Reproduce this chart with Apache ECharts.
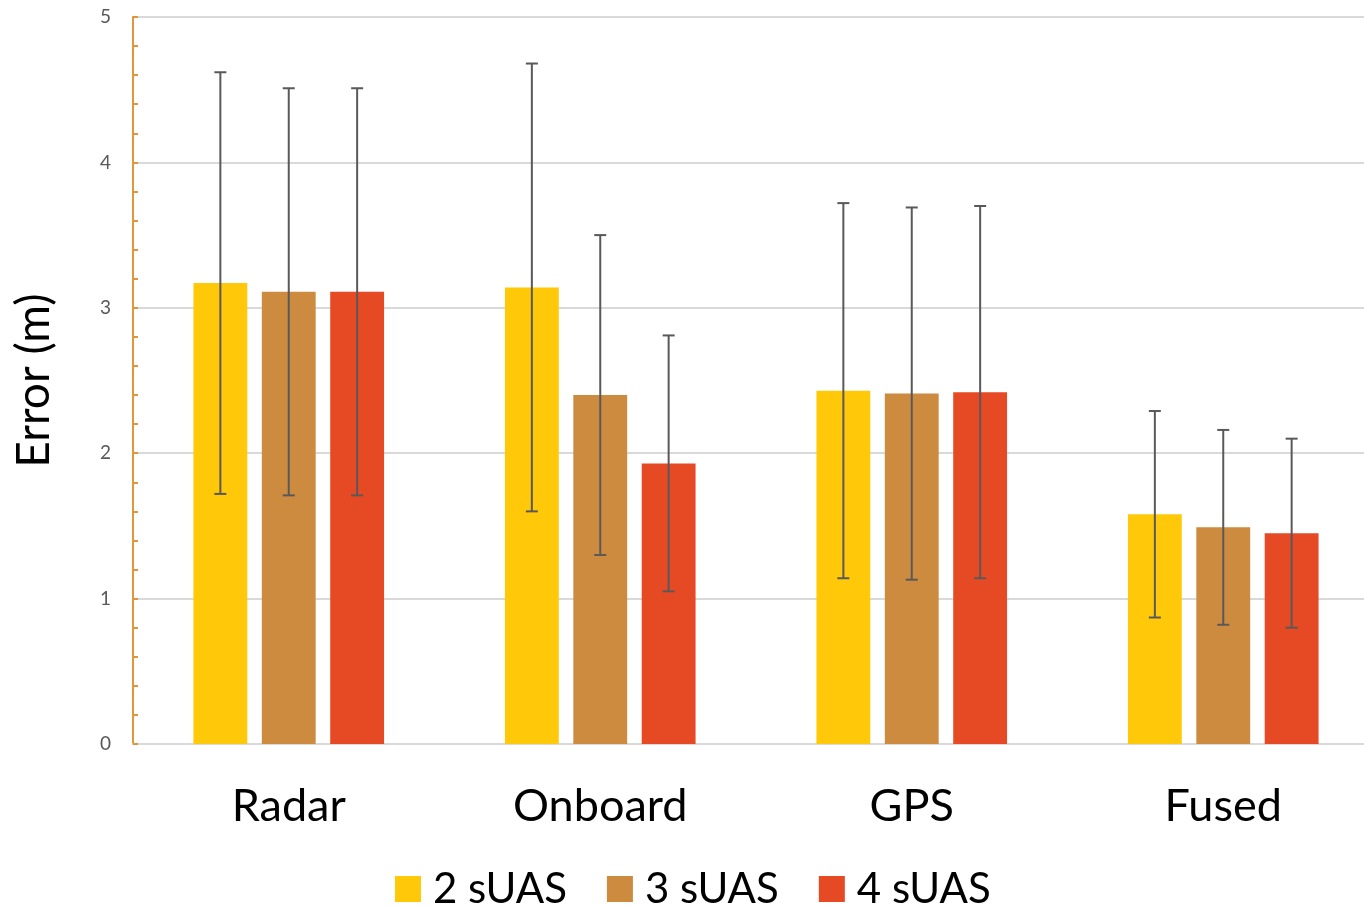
<!DOCTYPE html>
<html>
<head>
<meta charset="utf-8">
<script src="https://cdn.jsdelivr.net/npm/echarts@6/dist/echarts.min.js"></script>
<style>html,body{margin:0;padding:0;background:#fff;}#main{width:1364px;height:907px;}</style>
</head>
<body>
<div id="main"></div>
<script>
var categories = ['Radar', 'Onboard', 'GPS', 'Fused'];
var seriesNames = ['2 sUAS', '3 sUAS', '4 sUAS'];
var values2 = [3.17, 3.14, 2.43, 1.58];
var values3 = [3.11, 2.40, 2.41, 1.49];
var values4 = [3.11, 1.93, 2.42, 1.45];
var low2 = [1.72, 1.60, 1.14, 0.87];
var high2 = [4.62, 4.68, 3.72, 2.29];
var low3 = [1.71, 1.30, 1.13, 0.82];
var high3 = [4.51, 3.50, 3.69, 2.16];
var low4 = [1.71, 1.05, 1.14, 0.80];
var high4 = [4.51, 2.81, 3.70, 2.10];
var colors = ['#FFC90A', '#CD8B3F', '#E64A24'];

var FONT = 'Lato';
var catGap = 0.388, barGap = 0.27;
var values = [values2, values3, values4];
var lows = [low2, low3, low4];
var highs = [high2, high3, high4];

var series = [];
for (var s = 0; s < 3; s++) {
  series.push({
    name: seriesNames[s], type: 'bar', data: values[s],
    barGap: (barGap * 100) + '%', barCategoryGap: (catGap * 100) + '%',
    itemStyle: { color: colors[s] }, emphasis: { disabled: true }
  });
}
for (var s2 = 0; s2 < 3; s2++) {
  (function (idx) {
    var data = categories.map(function (c, i) { return [i, lows[idx][i], highs[idx][i]]; });
    series.push({
      name: 'err' + idx, type: 'custom', data: data, z: 10,
      encode: { x: 0, y: [1, 2] },
      renderItem: function (params, api) {
        var band = api.size([1, 0])[0];
        var bw = band * (1 - catGap) / (3 + 2 * barGap);
        var off = (idx - 1) * bw * (1 + barGap);
        var lo = api.coord([api.value(0), api.value(1)]);
        var hi = api.coord([api.value(0), api.value(2)]);
        var x = lo[0] + off;
        var cap = 6;
        var st = { stroke: '#595959', lineWidth: 2 };
        return { type: 'group', children: [
          { type: 'line', shape: { x1: x, y1: lo[1], x2: x, y2: hi[1] }, style: st },
          { type: 'line', shape: { x1: x - cap, y1: hi[1], x2: x + cap, y2: hi[1] }, style: st },
          { type: 'line', shape: { x1: x - cap, y1: lo[1], x2: x + cap, y2: lo[1] }, style: st }
        ]};
      }
    });
  })(s2);
}

var chart = echarts.init(document.getElementById('main'));
chart.setOption({
  animation: false,
  textStyle: { fontFamily: FONT },
  grid: { left: 133, right: -15, top: 17, bottom: 163, containLabel: false, outerBoundsMode: 'none' },
  legend: {
    data: seriesNames, top: 863, left: 390, itemWidth: 26, itemHeight: 26, itemGap: 40,
    icon: 'rect', textStyle: { fontFamily: FONT, fontSize: 42, color: '#000', padding: [0, 0, 0, 7] }, selectedMode: false
  },
  xAxis: {
    type: 'category', data: categories,
    axisLine: { lineStyle: { color: '#D9D9D9', width: 2 } },
    axisTick: { show: false },
    axisLabel: { fontFamily: FONT, fontSize: 45, color: '#000', margin: 40 }
  },
  yAxis: {
    type: 'value', min: 0, max: 5, interval: 1,
    name: 'Error (m)', nameLocation: 'middle', nameGap: 76, nameRotate: 90,
    nameTextStyle: { fontFamily: FONT, fontSize: 46, color: '#000' },
    axisLine: { show: true, lineStyle: { color: '#E0963A', width: 2 } },
    axisTick: { show: true, inside: true, length: 5, lineStyle: { color: '#E0963A', width: 2 } },
    minorTick: { show: true, splitNumber: 5, length: 5, lineStyle: { color: '#E0963A', width: 2 } },
    splitLine: { lineStyle: { color: '#D9D9D9', width: 2 } },
    axisLabel: { fontFamily: FONT, fontSize: 19, color: '#595959', margin: 22 }
  },
  series: series
});
</script>
</body>
</html>
